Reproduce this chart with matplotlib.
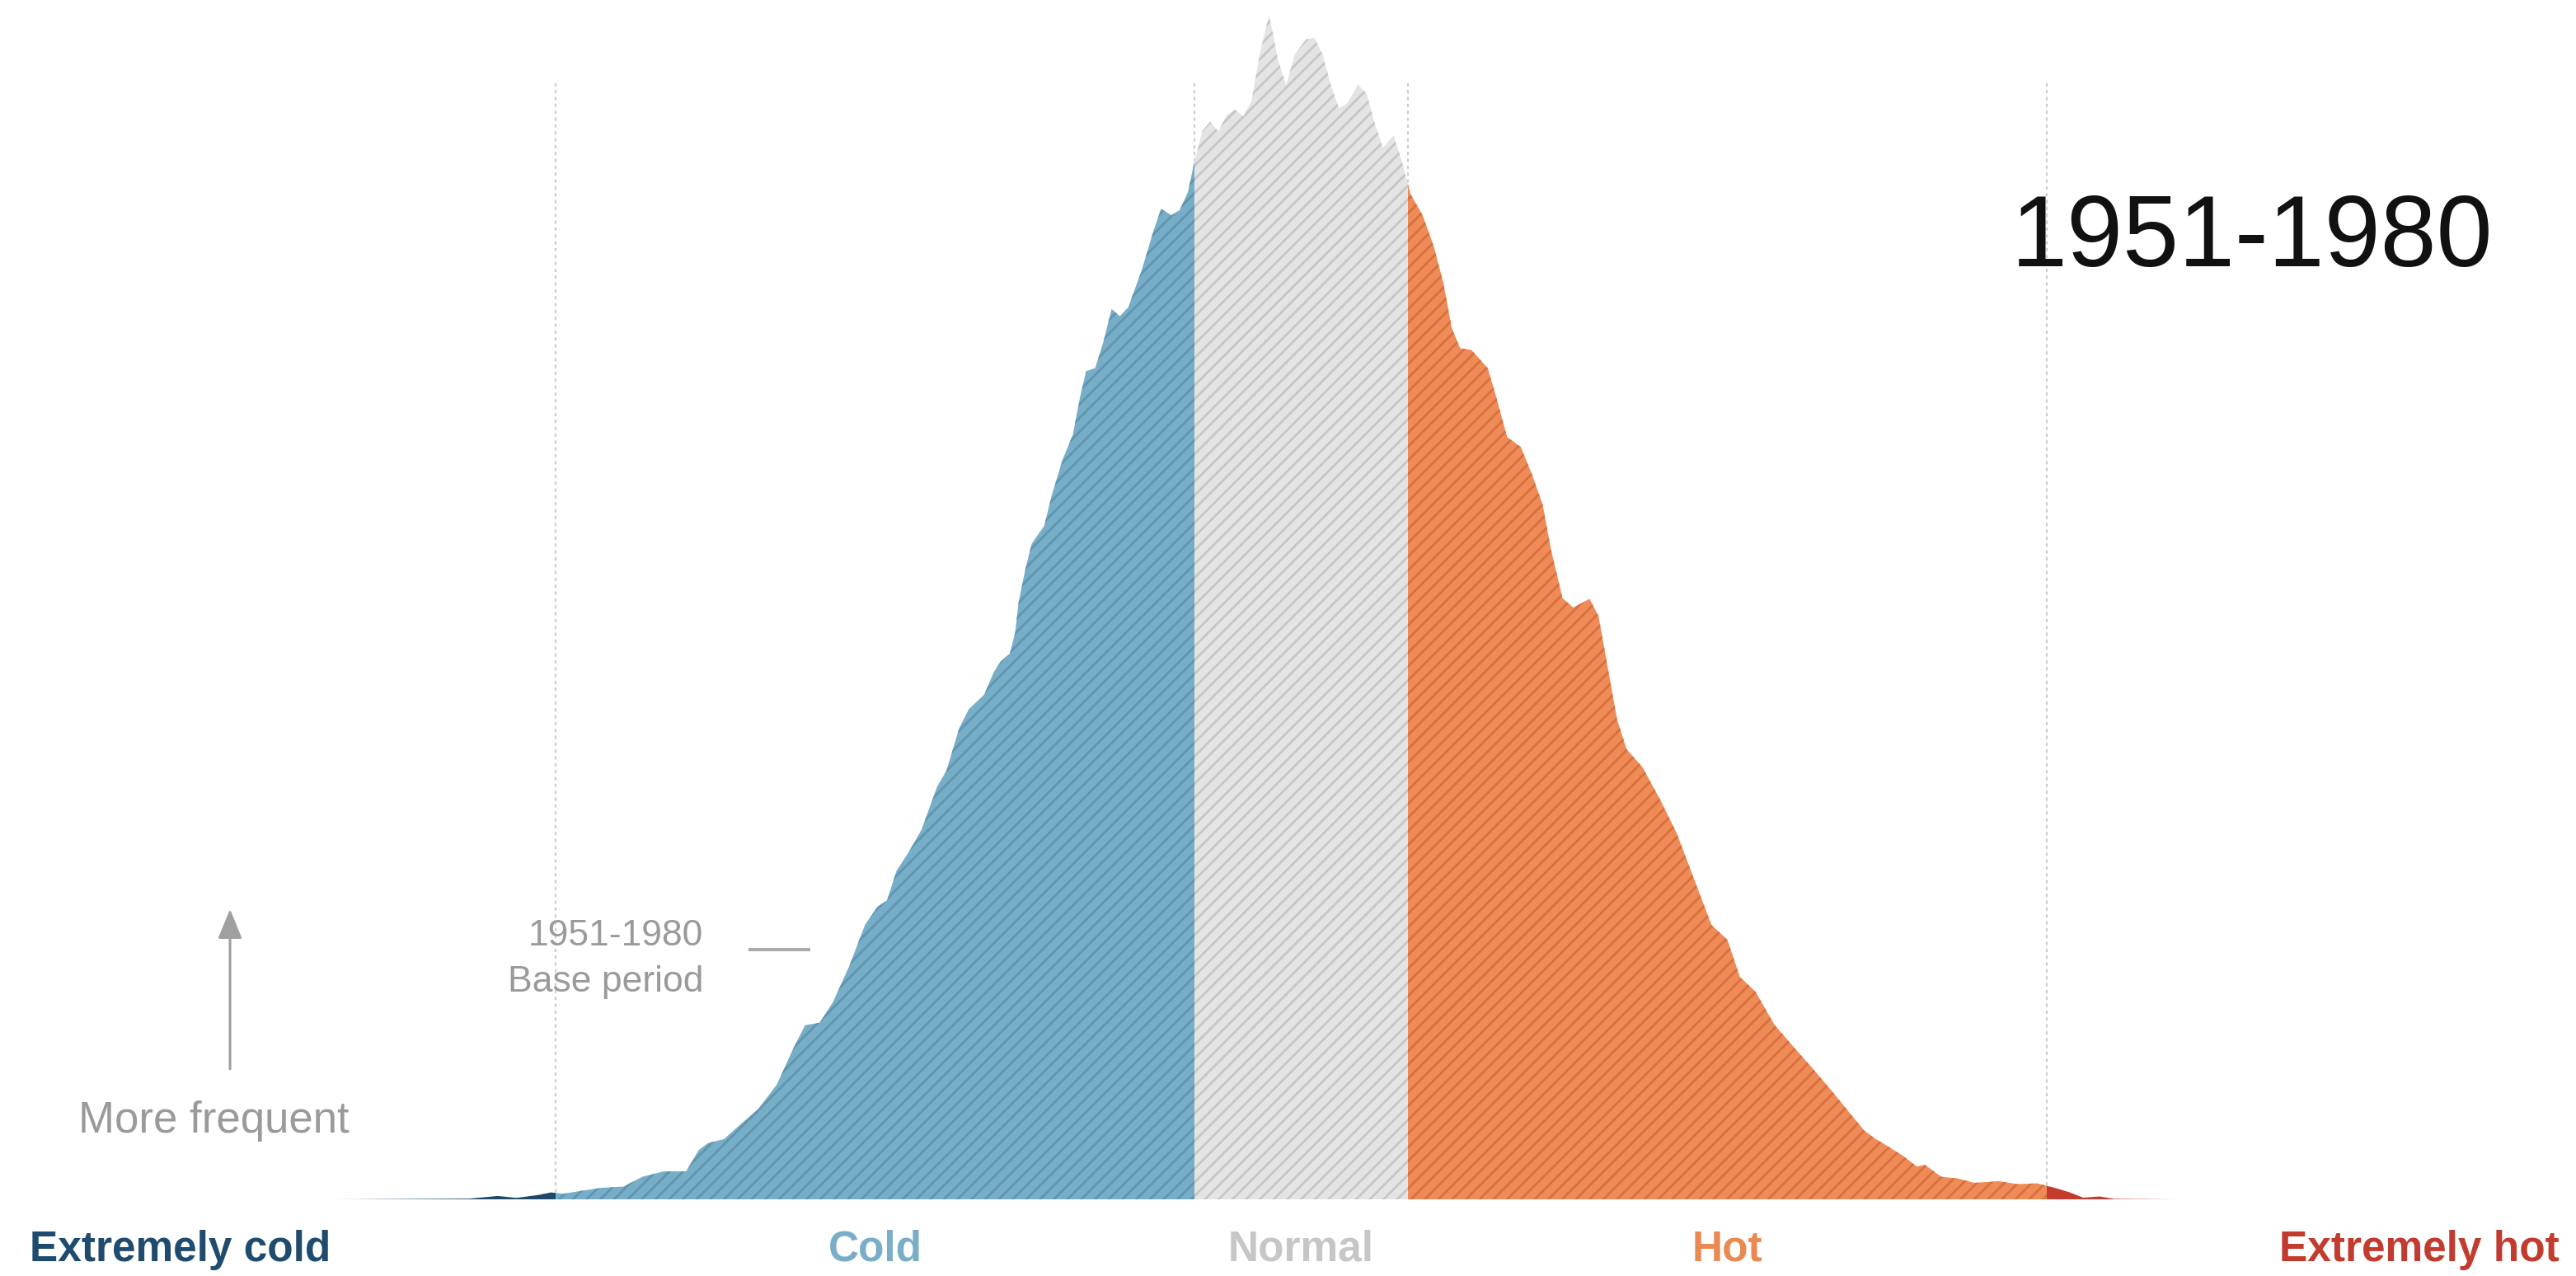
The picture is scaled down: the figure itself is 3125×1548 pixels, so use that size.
import matplotlib
matplotlib.use('Agg')
import matplotlib.pyplot as plt
from matplotlib.patches import Rectangle

# temperature anomaly in standard deviations and relative frequency (peak = 100)
sigma = [-3.893, -3.604, -3.349, -3.234, -3.159, -3.070, -3.020, -2.970, -2.906, -2.817,
         -2.729, -2.652, -2.566, -2.476, -2.425, -2.388, -2.323, -2.262, -2.185, -2.110,
         -2.045, -1.997, -1.938, -1.885, -1.819, -1.756, -1.706, -1.667, -1.629, -1.581,
         -1.528, -1.465, -1.429, -1.376, -1.338, -1.276, -1.237, -1.210, -1.173, -1.151,
         -1.138, -1.111, -1.085, -1.034, -1.005, -0.961, -0.919, -0.890, -0.866, -0.829,
         -0.796, -0.763, -0.730, -0.696, -0.642, -0.597, -0.564, -0.522, -0.489, -0.456,
         -0.432, -0.399, -0.366, -0.333, -0.300, -0.267, -0.233, -0.200, -0.167, -0.129,
         -0.093, -0.060, -0.026, 0.020, 0.053, 0.086, 0.119, 0.152, 0.185, 0.229,
         0.263, 0.296, 0.329, 0.372, 0.405, 0.440, 0.489, 0.534, 0.573, 0.606,
         0.640, 0.685, 0.751, 0.784, 0.829, 0.884, 0.929, 0.972, 1.005, 1.052,
         1.095, 1.161, 1.197, 1.235, 1.272, 1.310, 1.374, 1.448, 1.513, 1.574,
         1.652, 1.716, 1.766, 1.829, 1.905, 1.981, 2.057, 2.136, 2.202, 2.268,
         2.313, 2.368, 2.421, 2.478, 2.511, 2.577, 2.643, 2.710, 2.809, 2.884,
         2.963, 3.040, 3.095, 3.148, 3.214, 3.272, 3.525]
freq = [0.0, 0.03, 0.06, 0.28, 0.12, 0.37, 0.58, 0.47, 0.69, 0.97,
        1.07, 1.90, 2.36, 2.36, 4.16, 4.74, 5.09, 6.24, 7.63, 9.71,
        12.72, 14.70, 14.91, 16.64, 19.70, 23.16, 24.69, 25.24, 27.74, 29.27,
        31.21, 34.87, 36.12, 39.81, 41.37, 42.61, 44.52, 45.40, 46.05, 47.88,
        50.35, 53.12, 55.34, 56.87, 59.36, 62.41, 64.56, 67.73, 69.90, 70.18,
        72.40, 75.17, 74.55, 75.31, 78.43, 81.59, 83.63, 83.08, 83.50, 85.02,
        87.38, 90.15, 90.98, 90.15, 91.54, 92.00, 91.43, 92.69, 96.67, 100.0,
        96.16, 94.08, 96.67, 97.92, 98.06, 96.67, 94.08, 92.12, 92.51, 94.08,
        93.38, 90.85, 88.77, 89.81, 87.66, 84.88, 83.08, 80.44, 77.32, 73.58,
        71.85, 71.71, 70.18, 67.82, 64.36, 63.52, 61.21, 58.67, 54.92, 50.76,
        49.96, 50.69, 49.24, 44.80, 40.50, 38.00, 36.48, 33.63, 30.85, 27.46,
        23.16, 21.91, 18.78, 17.53, 14.74, 12.90, 11.10, 9.15, 7.45, 5.78,
        5.09, 4.40, 3.70, 2.77, 2.91, 1.90, 1.76, 1.39, 1.53, 1.28,
        1.35, 0.93, 0.58, 0.14, 0.24, 0.04, 0.0]

categories = ['Extremely cold', 'Cold', 'Normal', 'Hot', 'Extremely hot']
thresholds = [-3.0, -0.43, 0.43, 3.0]
period = '1951-1980'
base_label = ['1951-1980', 'Base period']

face_colors = ['#1d4868', '#76adc7', '#e4e4e4', '#ee8b56', '#c43a2c']
hatch_colors = ['#1d4868', '#6195af', '#c6c6c6', '#d8703e', '#c43a2c']
label_colors = ['#1f4b6e', '#7aaec8', '#c6c6c6', '#e98a52', '#c23b2f']

plt.rcParams['hatch.linewidth'] = 2.0
FONT = ['Liberation Sans', 'DejaVu Sans']

fig = plt.figure(figsize=(31.25, 15.48), dpi=100)
ax = fig.add_axes([0, 0.0601, 1, 0.9399])
ax.set_xlim(-5.238, 5.132)
ax.set_ylim(0, 101.25)
ax.axis('off')

# dashed category boundaries, behind the curve
ax.vlines(thresholds, 0, 94.3, colors='#cccccc', linestyles=(0, (2, 2)),
          linewidth=1.5, zorder=1)

edges = [-10] + thresholds + [10]
for i in range(len(categories)):
    poly = ax.fill_between(sigma, freq, 0, facecolor=face_colors[i],
                           edgecolor=hatch_colors[i], linewidth=0,
                           hatch='' if i in (0, 4) else '//', zorder=2)
    clip = Rectangle((edges[i], -1), edges[i + 1] - edges[i], 200,
                     transform=ax.transData)
    poly.set_clip_path(clip)

# category labels under the curve
lab_kw = dict(fontsize=37, fontweight='bold', family=FONT, va='baseline', clip_on=False)
ax.text(0.0115, -5.2, categories[0], color=label_colors[0], ha='left',
        transform=ax.get_yaxis_transform(), **lab_kw)
for i in (1, 2, 3):
    mid = (edges[i] + edges[i + 1]) / 2
    ax.text(mid, -5.2, categories[i], color=label_colors[i], ha='center', **lab_kw)
ax.text(0.9935, -5.2, categories[4], color=label_colors[4], ha='right',
        transform=ax.get_yaxis_transform(), **lab_kw)

# big period title
ax.text(3.829, 78.8, period, fontsize=88, family=FONT, color='#111111',
        ha='center', va='baseline')

# base period note
ax.text(-2.407, 21.4, base_label[0], fontsize=32, family=FONT, color='#9a9a9a',
        ha='right', va='baseline')
ax.text(-2.407, 17.5, base_label[1], fontsize=32, family=FONT, color='#9a9a9a',
        ha='right', va='baseline')
ax.plot([-2.225, -1.975], [21.1, 21.1], color='#aaaaaa', linewidth=3, solid_capstyle='butt')

# frequency arrow
ax.annotate('', xy=(-4.312, 24.5), xytext=(-4.312, 11.0),
            arrowprops=dict(arrowstyle='-|>,head_length=1.1,head_width=0.45',
                            mutation_scale=20, color='#a0a0a0', linewidth=2.2,
                            shrinkA=0, shrinkB=0))
ax.text(-4.378, 5.6, 'More frequent', fontsize=38, family=FONT, color='#9a9a9a',
        ha='center', va='baseline')

fig.savefig('out.png', dpi=100, facecolor='white')
